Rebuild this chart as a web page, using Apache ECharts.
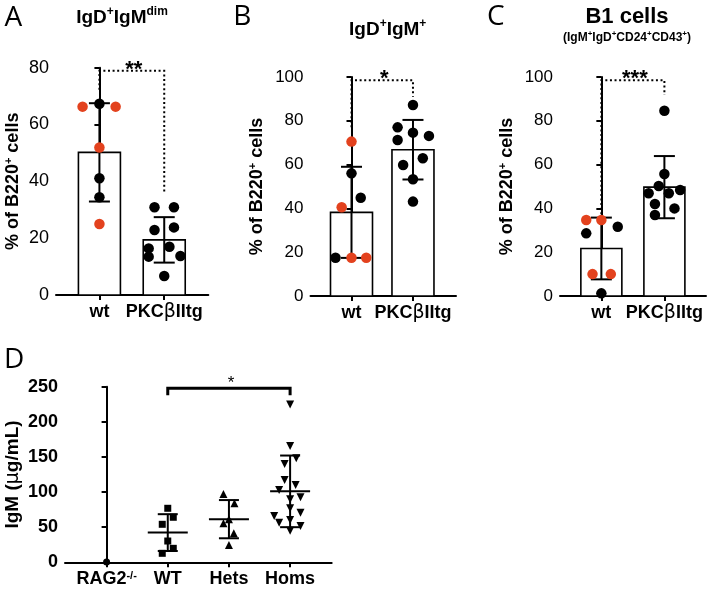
<!DOCTYPE html>
<html><head><meta charset="utf-8">
<script src="https://cdn.jsdelivr.net/npm/echarts@6/dist/echarts.min.js"></script>
<style>html,body{margin:0;padding:0;background:#fff}#c{width:708px;height:590px}</style>
</head><body><div id="c"></div>
<script>
// ---------- categories & tick labels ----------
const catsABC = ['wt', 'PKCβIItg'];
const catsD = ['RAG2', 'WT', 'Hets', 'Homs'];
const yTicksA = [0, 20, 40, 60, 80];
const yTicksBC = [0, 20, 40, 60, 80, 100];
const yTicksD = [0, 50, 100, 150, 200, 250];

// ---------- Panel A: IgD+IgMdim ----------
const aWtVals = [66.3, 67.3, 66.3, 51.9, 41.1, 34.4, 25.0];
const aWtGroup = ['r', 'k', 'r', 'r', 'k', 'k', 'r'];
const aWtJit = [-0.26, 0, 0.25, 0, 0, 0, 0];
const aTgVals = [30.9, 30.9, 22.9, 23.8, 16.4, 17.0, 13.5, 13.7, 6.7];
const aTgJit = [-0.15, 0.15, -0.15, 0.15, -0.24, 0.08, -0.24, 0.25, 0];
const aMean = [50.2, 19.4];
const aSd = [17.3, 8.0];
const aBracket = [78.9, 72.2, 35.8];
const aStars = '**';

// ---------- Panel B: IgD+IgM+ ----------
const bWtVals = [70.5, 56.0, 44.9, 40.5, 17.5, 17.5, 17.5];
const bWtGroup = ['r', 'k', 'k', 'r', 'k', 'r', 'r'];
const bWtJit = [0, 0, 0.15, -0.16, -0.26, 0, 0.24];
const bTgVals = [87.2, 77.0, 74.6, 73.1, 71.2, 62.9, 59.8, 53.3, 43.1];
const bTgJit = [0, -0.25, 0, 0.26, -0.25, 0.16, -0.16, 0, 0];
const bMean = [38.2, 66.8];
const bSd = [20.8, 13.6];
const bBracket = [98.5, 77.0, 91.0];
const bStars = '*';

// ---------- Panel C: B1 cells ----------
const cWtVals = [34.7, 34.7, 28.6, 31.6, 10.0, 10.0, 1.2];
const cWtGroup = ['r', 'r', 'k', 'k', 'r', 'r', 'k'];
const cWtJit = [-0.24, 0, -0.24, 0.26, -0.14, 0.15, 0];
const cTgVals = [84.6, 55.7, 50.2, 46.9, 46.9, 48.4, 42.0, 40.0, 37.0];
const cTgJit = [0, 0, -0.09, -0.25, 0.07, 0.25, -0.15, 0.16, -0.15];
const cMean = [21.7, 49.7];
const cSd = [14.1, 14.2];
const cBracket = [98.5, 37.3, 91.8];
const cStars = '***';

// ---------- Panel D: serum IgM ----------
const dRagVals = [0.5];
const dRagJit = [0];
const dWtVals = [76.9, 64.1, 54.1, 30.3, 19.9, 12.8];
const dWtJit = [0, 0.09, -0.09, 0, 0.09, -0.09];
const dHetVals = [97.2, 84.0, 55.5, 61.2, 41.3, 24.6];
const dHetJit = [-0.09, 0.09, -0.09, 0, 0.08, 0];
const dHomVals = [224.5, 165.6, 148.0, 140.0, 117.2, 110.0, 102.9, 89.7, 92.5, 76.9, 70.6, 65.9, 56.4, 60.2, 51.7, 45.0];
const dHomJit = [0, 0, 0.1, -0.09, -0.09, 0.09, -0.18, 0, 0.17, 0, 0.17, -0.26, -0.18, 0, 0.17, 0];
const dMean = [42.3, 61.4, 101];
const dSd = [26.2, 27.2, 51];
const dBracket = [247.7, 238, 238];
const dStars = '*';

// ---------- styling ----------
const RED = '#e3421e';
const FONT = '"Liberation Sans", Arial, Helvetica, sans-serif';

function pts(cat, vals, jit, grp) {
  return vals.map((v, i) => ({ value: [cat + jit[i], v], itemStyle: { color: grp && grp[i] === 'r' ? RED : '#000', opacity: 1 } }));
}

function barRender(bw) {
  return function (params, api) {
    const x = api.value(0), m = api.value(1);
    const c = api.coord([x, m]), b = api.coord([x, 0]);
    return { type: 'rect', shape: { x: c[0] - bw / 2, y: c[1], width: bw, height: b[1] - c[1] },
      style: { fill: '#fff', stroke: '#000', lineWidth: 1.6 } };
  };
}
function errRender(cap, meanW) {
  return function (params, api) {
    const x = api.value(0), m = api.value(1), s = api.value(2);
    const t = api.coord([x, m + s]), bo = api.coord([x, m - s]), c = api.coord([x, m]);
    const ls = { stroke: '#000', lineWidth: 2 };
    const ch = [
      { type: 'line', shape: { x1: t[0], y1: t[1], x2: bo[0], y2: bo[1] }, style: ls },
      { type: 'line', shape: { x1: t[0] - cap / 2, y1: t[1], x2: t[0] + cap / 2, y2: t[1] }, style: ls },
      { type: 'line', shape: { x1: bo[0] - cap / 2, y1: bo[1], x2: bo[0] + cap / 2, y2: bo[1] }, style: ls }
    ];
    if (meanW) ch.push({ type: 'line', shape: { x1: c[0] - meanW / 2, y1: c[1], x2: c[0] + meanW / 2, y2: c[1] }, style: ls });
    return { type: 'group', children: ch };
  };
}
function bracketRender(dashed, label, fs, fw, dy) {
  return function (params, api) {
    const x0 = api.value(0), x1 = api.value(1);
    const p1 = api.coord([x0, api.value(3)]), p2 = api.coord([x0, api.value(2)]);
    const p3 = api.coord([x1, api.value(2)]), p4 = api.coord([x1, api.value(4)]);
    return { type: 'group', children: [
      { type: 'polyline', shape: { points: [p1, p2, p3, p4] },
        style: { stroke: '#000', fill: null, lineWidth: dashed ? 2 : 3, lineDash: dashed ? [2, 2.6] : null } },
      { type: 'text', x: (p2[0] + p3[0]) / 2 + 2, y: p2[1] + dy,
        style: { text: label, fill: '#000', font: fw + ' ' + fs + 'px ' + FONT, align: 'center', verticalAlign: 'bottom' } }
    ] };
  };
}

function xAxis(gi, min, max, cats, rich, fmt) {
  const vals = cats.map((c, i) => i);
  return { type: 'value', gridIndex: gi, min: min, max: max,
    splitLine: { show: false },
    axisLine: { show: true, onZero: false, lineStyle: { color: '#000', width: 2 } },
    axisTick: { show: true, customValues: vals, length: 5, lineStyle: { color: '#000', width: 2 } },
    axisLabel: { customValues: vals, formatter: fmt, color: '#000', fontSize: 18, fontWeight: 'bold', fontFamily: FONT, margin: 8, rich: rich }
  };
}
function yAxis(gi, ticks, name, gap, fs, fw, nameRich) {
  return { type: 'value', gridIndex: gi, min: ticks[0], max: ticks[ticks.length - 1], interval: ticks[1] - ticks[0],
    splitLine: { show: false },
    axisLine: { show: true, lineStyle: { color: '#000', width: 2 } },
    axisTick: { show: true, length: 5, lineStyle: { color: '#000', width: 2 } },
    axisLabel: { color: '#000', fontSize: fs, fontWeight: fw, fontFamily: FONT, margin: 7 },
    name: name, nameLocation: 'middle', nameRotate: 90, nameGap: gap, nameMoveOverlap: false,
    nameTextStyle: { color: '#000', fontSize: 18, fontWeight: 'bold', fontFamily: FONT, lineHeight: 20, rich: nameRich }
  };
}

const supRich = {
  t: { fontSize: 18, fontWeight: 'bold', fontFamily: FONT, lineHeight: 20, color: '#000' },
  sup: { fontSize: 11, fontWeight: 'bold', fontFamily: FONT, verticalAlign: 'top', lineHeight: 10, color: '#000' }
};
const betaRich = { b: { fontSize: 19, fontWeight: 'normal', fontFamily: '"DejaVu Sans", sans-serif', color: '#000' } };
const catFmtABC = v => (Math.round(v) === 1 ? 'PKC{b|β}IItg' : catsABC[Math.round(v)]);
const catFmtD = v => (Math.round(v) === 0 ? 'RAG2{sup|-/-}' : catsD[Math.round(v)]);
const yName = '{t|% of B220}{sup|+}{t| cells}';

function panelSeries(gi, wt, wtJit, wtGrp, tg, tgJit, mean, sd, bracket, stars, bw, starFs) {
  return [
    { type: 'custom', xAxisIndex: gi, yAxisIndex: gi, z: 1, renderItem: barRender(bw), data: mean.map((m, i) => [i, m]) },
    { type: 'custom', xAxisIndex: gi, yAxisIndex: gi, z: 2, renderItem: errRender(21, 0), data: mean.map((m, i) => [i, m, sd[i]]) },
    { type: 'scatter', xAxisIndex: gi, yAxisIndex: gi, z: 3, symbol: 'circle', symbolSize: 10.5, itemStyle: { opacity: 1 }, data: pts(0, wt, wtJit, wtGrp).concat(pts(1, tg, tgJit, null)) },
    { type: 'custom', xAxisIndex: gi, yAxisIndex: gi, z: 4, renderItem: bracketRender(true, stars, starFs, 'bold', 10), data: [[0, 1, bracket[0], bracket[1], bracket[2]]] }
  ];
}

const dSym = { type: 'scatter', xAxisIndex: 3, yAxisIndex: 3, z: 3, itemStyle: { color: '#000', opacity: 1 } };
const series = [].concat(
  panelSeries(0, aWtVals, aWtJit, aWtGroup, aTgVals, aTgJit, aMean, aSd, aBracket, aStars, 42, 22),
  panelSeries(1, bWtVals, bWtJit, bWtGroup, bTgVals, bTgJit, bMean, bSd, bBracket, bStars, 42, 22),
  panelSeries(2, cWtVals, cWtJit, cWtGroup, cTgVals, cTgJit, cMean, cSd, cBracket, cStars, 41, 22),
  [
    Object.assign({}, dSym, { symbol: 'circle', symbolSize: 7, data: pts(0, dRagVals, dRagJit, null) }),
    Object.assign({}, dSym, { symbol: 'rect', symbolSize: 7, data: pts(1, dWtVals, dWtJit, null) }),
    Object.assign({}, dSym, { symbol: 'triangle', symbolSize: 8, data: pts(2, dHetVals, dHetJit, null) }),
    Object.assign({}, dSym, { symbol: 'triangle', symbolRotate: 180, symbolSize: 8, data: pts(3, dHomVals, dHomJit, null) }),
    { type: 'custom', xAxisIndex: 3, yAxisIndex: 3, z: 4, renderItem: errRender(20, 40), data: dMean.map((m, i) => [i + 1, m, dSd[i]]) },
    { type: 'custom', xAxisIndex: 3, yAxisIndex: 3, z: 4, renderItem: bracketRender(false, dStars, 17, 'normal', 3), data: [[1, 3, dBracket[0], dBracket[1], dBracket[2]]] }
  ]
);

function txt(x, y, rich, text, font) {
  return { type: 'text', x: x, y: y, style: { text: text, font: font, fill: '#000', align: 'center', verticalAlign: 'middle', rich: rich } };
}
const letterFont = '28px "Open Sans", sans-serif';
const titleRich = { sup: { fontSize: 12, fontWeight: 'bold', fontFamily: FONT, verticalAlign: 'top', lineHeight: 11, fill: '#000' },
                    m: { fontSize: 19, fontWeight: 'bold', fontFamily: FONT, lineHeight: 24, fill: '#000' } };
const smallRich = { sup: { fontSize: 8, fontWeight: 'bold', fontFamily: FONT, verticalAlign: 'top', lineHeight: 7, fill: '#000' },
                    m: { fontSize: 12, fontWeight: 'bold', fontFamily: FONT, lineHeight: 15, fill: '#000' } };
const dNameRich = {
  t: { fontSize: 19, fontWeight: 'bold', fontFamily: FONT, lineHeight: 22, color: '#000' },
  mu: { fontSize: 19, fontWeight: 'normal', fontFamily: '"DejaVu Sans", sans-serif', lineHeight: 22, color: '#000' }
};

const chart = echarts.init(document.getElementById('c'), null, { renderer: 'canvas' });
chart.setOption({
  animation: false,
  backgroundColor: '#fff',
  textStyle: { fontFamily: FONT, color: '#000' },
  grid: [
    { left: 56, top: 67.7, width: 152.3, height: 227.3, outerBoundsMode: 'none' },
    { left: 310.5, top: 77, width: 145.5, height: 219, outerBoundsMode: 'none' },
    { left: 560, top: 77, width: 146, height: 219, outerBoundsMode: 'none' },
    { left: 65, top: 386.7, width: 266.7, height: 175.6, outerBoundsMode: 'none' }
  ],
  xAxis: [
    xAxis(0, -0.67, 1.68, catsABC, betaRich, catFmtABC),
    xAxis(1, -0.667, 1.70, catsABC, betaRich, catFmtABC),
    xAxis(2, -0.656, 1.66, catsABC, betaRich, catFmtABC),
    xAxis(3, -0.68, 3.68, catsD, { sup: { fontSize: 11, fontWeight: 'bold', fontFamily: FONT, verticalAlign: 'top', lineHeight: 10, color: '#000' } }, catFmtD)
  ],
  yAxis: [
    yAxis(0, yTicksA, yName, 33, 18, 'normal', supRich),
    yAxis(1, yTicksBC, yName, 43, 17, 'normal', supRich),
    yAxis(2, yTicksBC, yName, 43, 17, 'normal', supRich),
    yAxis(3, yTicksD, '{t|IgM (}{mu|μ}{t|g/mL)}', 41, 18, 'bold', dNameRich)
  ],
  graphic: [
    txt(13.4, 18.5, null, 'A', letterFont),
    txt(242.4, 17.5, null, 'B', letterFont),
    txt(495.8, 17.5, null, 'C', letterFont),
    txt(14.2, 360.5, null, 'D', letterFont),
    txt(122, 18, titleRich, '{m|IgD}{sup|+}{m|IgM}{sup|dim}', 'bold 19px ' + FONT),
    txt(387.7, 30, titleRich, '{m|IgD}{sup|+}{m|IgM}{sup|+}', 'bold 19px ' + FONT),
    txt(627, 17, null, 'B1 cells', 'bold 22px ' + FONT),
    txt(627, 37.5, smallRich, '{m|(IgM}{sup|+}{m|IgD}{sup|+}{m|CD24}{sup|+}{m|CD43}{sup|+}{m|)}', 'bold 12px ' + FONT)
  ],
  series: series
});
</script>
</body></html>
